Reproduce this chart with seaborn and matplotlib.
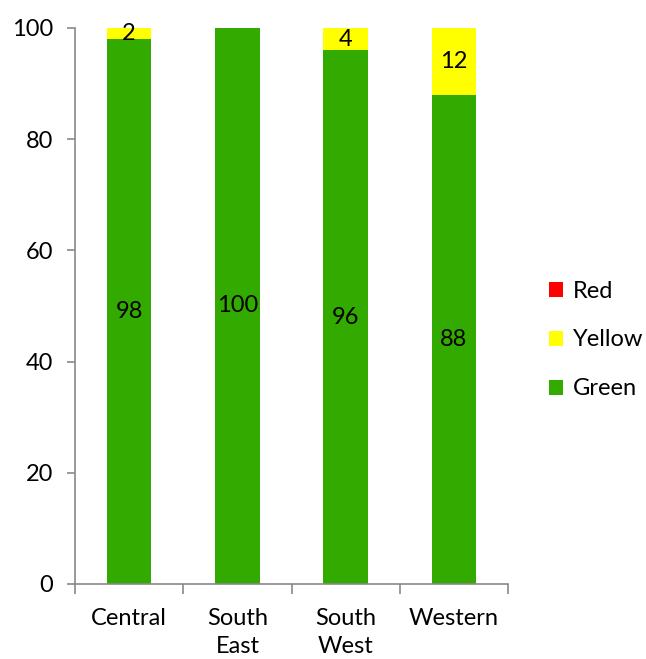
import matplotlib
matplotlib.use("Agg")
import matplotlib.pyplot as plt
import seaborn as sns
import pandas as pd
import numpy as np
from matplotlib.patches import Patch

categories = ["Central", "South\nEast", "South\nWest", "Western"]
green = [98, 100, 96, 88]
yellow = [2, 0, 4, 12]
red = [0, 0, 0, 0]

colors = {"Red": "#FF0000", "Yellow": "#FFFF00", "Green": "#33AA00"}

sns.set_theme(style="white")
plt.rcParams["font.family"] = ["Lato", "DejaVu Sans"]
plt.rcParams["text.color"] = "black"
plt.rcParams["xtick.color"] = "black"
plt.rcParams["ytick.color"] = "black"

df = pd.DataFrame({"cat": categories, "Green": green, "Yellow": yellow, "Red": red})
df["gy"] = df["Green"] + df["Yellow"]
df["all"] = df["gy"] + df["Red"]

fig = plt.figure(figsize=(6.46, 6.59), dpi=100)
ax = fig.add_axes([75/646, 75/659, 433/646, 556/659])

bw = 0.41
sns.barplot(data=df, x="cat", y="all", color=colors["Red"], width=bw, ax=ax,
            saturation=1, linewidth=0, antialiased=False)
sns.barplot(data=df, x="cat", y="gy", color=colors["Yellow"], width=bw, ax=ax,
            saturation=1, linewidth=0, antialiased=False)
sns.barplot(data=df, x="cat", y="Green", color=colors["Green"], width=bw, ax=ax,
            saturation=1, linewidth=0, antialiased=False)

fs = 17
for i in range(len(categories)):
    g, yv, r = green[i], yellow[i], red[i]
    if g > 0:
        ax.text(i, g / 2, f"{g}", ha="center", va="center", fontsize=fs, color="black")
    if yv > 0:
        ax.text(i, g + yv / 2, f"{yv}", ha="center", va="center", fontsize=fs, color="black")
    if r > 0:
        ax.text(i, g + yv + r / 2, f"{r}", ha="center", va="center", fontsize=fs, color="black")

ax.set_xlim(-0.5, len(categories) - 0.5)
ax.set_ylim(0, 100)
ax.set_yticks([0, 20, 40, 60, 80, 100])
ax.set_xlabel("")
ax.set_ylabel("")

gray = "#898989"
for s in ["top", "right"]:
    ax.spines[s].set_visible(False)
for s in ["left", "bottom"]:
    ax.spines[s].set_color(gray)
    ax.spines[s].set_linewidth(1.2)

ax.set_xticks(range(len(categories)))
ax.set_xticklabels(categories, fontsize=fs, linespacing=1.42, color="black")
ax.tick_params(axis="x", which="major", length=0, pad=17)
ax.set_xticks(np.arange(-0.5, len(categories), 1.0), minor=True)
ax.tick_params(axis="x", which="minor", length=7, width=1.2, color=gray, direction="out", bottom=True)
ax.tick_params(axis="y", which="major", length=6, width=1.2, color=gray, direction="out",
               left=True, labelsize=fs, pad=10, labelcolor="black")

handles = [Patch(facecolor=colors[k], edgecolor="none", label=k) for k in ["Red", "Yellow", "Green"]]
leg = fig.legend(handles=handles, loc="center left", bbox_to_anchor=(528/646, 1 - 340/659),
                 frameon=False, fontsize=fs, handlelength=0.6, handleheight=0.6,
                 handletextpad=0.4, labelspacing=1.18)
for t in leg.get_texts():
    t.set_color("black")

fig.savefig("out.png", dpi=100)
